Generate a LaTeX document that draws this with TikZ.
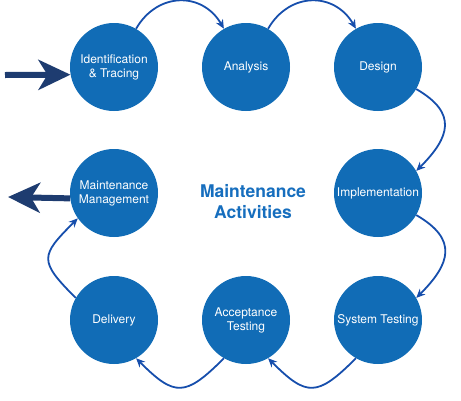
\documentclass[tikz,border=0pt]{standalone}
\usepackage{fontspec}
\setmainfont{TeX Gyre Heros}
\usetikzlibrary{arrows.meta}
\definecolor{stageblue}{RGB}{17,108,182}
\definecolor{flowblue}{RGB}{22,78,172}
\definecolor{navy}{RGB}{30,60,112}
\definecolor{titleblue}{RGB}{22,110,190}

\begin{document}
\begin{tikzpicture}[
        x=1pt, y=-1pt,
        node distance=132pt, % Distance between circle centres
        stage/.style={circle, fill=stageblue, minimum size=88pt, inner sep=0pt, text=white, align=center, font=\fontsize{12}{14}\selectfont}, % Circle styling
        flow/.style={draw=flowblue, line width=1.8pt, -{Stealth[length=9pt,width=8pt]}, looseness=1.5}, % Curved arrows
        bigarrow/.style={draw=navy, line width=6pt, -{Stealth[length=32pt,width=30pt,inset=9pt]}} % In and out arrows
        ]
    \useasboundingbox (0,0) rectangle (461,400);

    % Define nodes
    \node[stage] (Ident) at (114,67) {Identification\\\& Tracing};
    \node[stage, right of=Ident] (Analysis) {Analysis};
    \node[stage, right of=Analysis] (Design) {Design};
    \node[stage, below of=Design, node distance=126pt] (Impl) {Implementation};
    \node[stage, below of=Impl, node distance=127pt] (SysTest) {System Testing};
    \node[stage, left of=SysTest] (Accept) {Acceptance\\Testing};
    \node[stage, left of=Accept] (Delivery) {Delivery};
    \node[stage, above of=Delivery, node distance=127pt] (Maint) {Maintenance\\Management};
    \node[text=titleblue, align=center, font=\fontsize{17.5}{21}\bfseries] (Title) at (253,202) {Maintenance\\Activities};

    % Draw arrows
    \draw[flow] (Ident.60) to[out=60,in=120,looseness=1.25] (Analysis.120);
    \draw[flow] (Analysis.60) to[out=60,in=120,looseness=1.25] (Design.120);
    \draw[flow] (Design.-30) to[out=-30,in=45] (Impl.30);
    \draw[flow] (Impl.-30) to[out=-30,in=45] (SysTest.30);
    \draw[flow] (SysTest.-120) to[out=-135,in=-45,looseness=1.6] (Accept.-60);
    \draw[flow] (Accept.-120) to[out=-135,in=-45,looseness=1.6] (Delivery.-60);
    \draw[flow] (Delivery.150) to[out=135,in=-135,looseness=1.7] (Maint.-145);

    % Input and output
    \coordinate (Input) at (5,75);
    \coordinate (Output) at (8,197);
    \draw[bigarrow] (Input) -- (Ident.190);
    \draw[bigarrow] (Maint.187) -- (Output);

\end{tikzpicture}
\end{document}
